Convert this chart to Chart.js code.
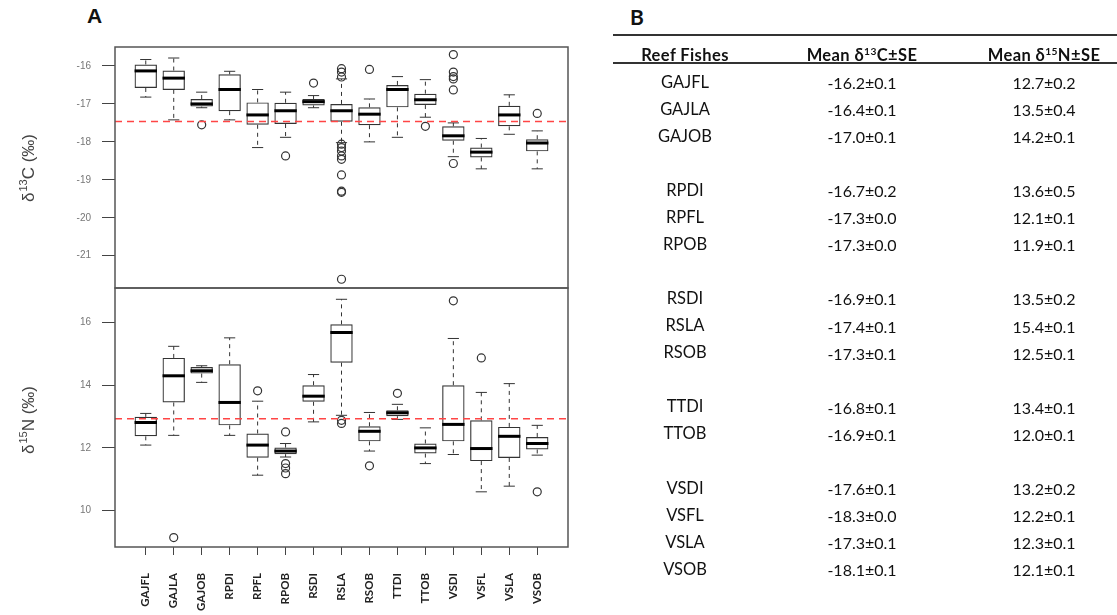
<!DOCTYPE html>
<html>
<head>
<meta charset="utf-8">
<script src="https://cdn.jsdelivr.net/npm/chart.js@4.4.1/dist/chart.umd.min.js"></script>
<style>
  html, body { margin: 0; padding: 0; background: #fff; }
  body { width: 1117px; height: 615px; position: relative; overflow: hidden; }
  canvas { position: absolute; left: 0; }
  #cTop { top: 0; }
  #cBottom { top: 271px; }
  .panel-tag { position: absolute; font-weight: bold; color: #111; }
  .cell { position: absolute; width: 220px; text-align: center; font-family: Lato, "Open Sans", sans-serif; color: #111; }
  .cell sup { font-size: 0.62em; vertical-align: 0.55em; line-height: 0; }
  .rule { position: absolute; left: 613px; width: 504px; height: 2px; background: #333; }
</style>
</head>
<body>
<div class="panel-tag" style="left:87px; top:4px; font: bold 21px 'Liberation Sans', Arial, sans-serif;">A</div>
<div class="panel-tag" style="left:630px; top:4px; font: bold 21px Lato, sans-serif;">B</div>
<canvas id="cTop" width="600" height="305"></canvas>
<canvas id="cBottom" width="600" height="344"></canvas>
<div id="tableB"></div>

<script>
    const species = ["GAJFL", "GAJLA", "GAJOB", "RPDI", "RPFL", "RPOB", "RSDI", "RSLA",
        "RSOB", "TTDI", "TTOB", "VSDI", "VSFL", "VSLA", "VSOB"];

    // delta 13C boxplot stats per species
    const carbonLow = [-16.82, -17.42, -17.10, -17.42, -18.15, -17.88, -17.10, -18.02, -18.00, -17.88, -17.35, -18.39, -18.71, -17.80, -18.71];
    const carbonQ1 = [-16.58, -16.63, -17.07, -17.19, -17.55, -17.53, -17.04, -17.47, -17.56, -17.09, -17.03, -17.97, -18.41, -17.59, -18.25];
    const carbonMedian = [-16.13, -16.32, -17.00, -16.62, -17.29, -17.18, -16.94, -17.18, -17.27, -16.62, -16.89, -17.84, -18.27, -17.29, -18.03];
    const carbonQ3 = [-15.96, -16.12, -16.87, -16.22, -16.96, -16.97, -16.87, -17.00, -17.09, -16.50, -16.73, -17.59, -18.15, -17.05, -17.93];
    const carbonHigh = [-15.83, -15.79, -16.69, -16.14, -16.62, -16.69, -16.78, -16.34, -16.87, -16.28, -16.36, -17.50, -17.91, -16.76, -17.71];
    const carbonOutliers = [
        [], [], [-17.55], [], [], [-18.37], [-16.45],
        [-16.07, -16.16, -16.29, -18.06, -18.15, -18.24, -18.37, -18.46, -18.87, -19.30, -19.33, -21.62],
        [-16.09], [], [-17.59], [-15.70, -16.16, -16.28, -16.34, -16.63, -18.57], [], [], [-17.25],
    ];
    const carbonTicks = [-21, -20, -19, -18, -17, -16];
    const carbonRef = -17.46;

    // delta 15N boxplot stats per species
    const nitrogenLow = [12.09, 12.40, 14.09, 12.40, 11.13, 11.71, 12.83, 13.04, 11.90, 12.91, 11.50, 11.79, 10.60, 10.78, 11.77];
    const nitrogenQ1 = [12.37, 13.45, 14.37, 12.72, 11.69, 11.80, 13.47, 14.72, 12.21, 13.01, 11.82, 12.21, 11.58, 11.68, 11.95];
    const nitrogenMedian = [12.81, 14.30, 14.46, 13.45, 12.09, 11.90, 13.65, 15.68, 12.53, 13.12, 12.00, 12.75, 11.98, 12.37, 12.14];
    const nitrogenQ3 = [12.99, 14.87, 14.58, 14.67, 12.46, 12.01, 14.00, 15.94, 12.69, 13.20, 12.14, 14.00, 12.88, 12.67, 12.35];
    const nitrogenHigh = [13.10, 15.24, 14.62, 15.51, 13.49, 12.14, 14.34, 16.74, 13.13, 13.39, 12.64, 15.49, 13.77, 14.05, 12.72];
    const nitrogenOutliers = [
        [], [9.14], [], [], [13.82], [12.51, 11.50, 11.36, 11.18], [], [12.88, 12.78],
        [11.43], [13.74], [], [16.69], [14.87], [], [10.60],
    ];
    const nitrogenTicks = [10, 12, 14, 16];
    const nitrogenRef = 12.93;

    // table B: means and standard errors
    const meanC = [-16.2, -16.4, -17.0, -16.7, -17.3, -17.3, -16.9, -17.4, -17.3, -16.8, -16.9, -17.6, -18.3, -17.3, -18.1];
    const seC = [0.1, 0.1, 0.1, 0.2, 0.0, 0.0, 0.1, 0.1, 0.1, 0.1, 0.1, 0.1, 0.0, 0.1, 0.1];
    const meanN = [12.7, 13.5, 14.2, 13.6, 12.1, 11.9, 13.5, 15.4, 12.5, 13.4, 12.0, 13.2, 12.2, 12.3, 12.1];
    const seN = [0.2, 0.4, 0.1, 0.5, 0.1, 0.1, 0.2, 0.1, 0.1, 0.1, 0.1, 0.2, 0.1, 0.1, 0.1];

    const X_MIN = -0.1;
    const X_MAX = 16.1;

    const boxPlugin = (stats) => ({
        id: "boxWhiskers",
        beforeDatasetsDraw(chart) {
            const { ctx, scales: { y } } = chart;
            const boxes = chart.getDatasetMeta(0).data;
            ctx.save();
            ctx.strokeStyle = "#333";
            ctx.lineWidth = 1;
            boxes.forEach((bar, i) => {
                const cap = bar.width / 4;
                const yLo = y.getPixelForValue(stats.low[i]);
                const yHi = y.getPixelForValue(stats.high[i]);
                const yQ1 = y.getPixelForValue(stats.q1[i]);
                const yQ3 = y.getPixelForValue(stats.q3[i]);
                // dashed whiskers
                ctx.setLineDash([4, 4]);
                ctx.beginPath();
                ctx.moveTo(bar.x, yQ3);
                ctx.lineTo(bar.x, yHi);
                ctx.moveTo(bar.x, yQ1);
                ctx.lineTo(bar.x, yLo);
                ctx.stroke();
                // staples
                ctx.setLineDash([]);
                ctx.beginPath();
                ctx.moveTo(bar.x - cap, yHi);
                ctx.lineTo(bar.x + cap, yHi);
                ctx.moveTo(bar.x - cap, yLo);
                ctx.lineTo(bar.x + cap, yLo);
                ctx.stroke();
            });
            ctx.restore();
        },
        afterDatasetsDraw(chart) {
            const { ctx, chartArea, scales: { y } } = chart;
            const boxes = chart.getDatasetMeta(0).data;
            ctx.save();
            // medians
            ctx.strokeStyle = "#000";
            ctx.lineWidth = 3;
            boxes.forEach((bar, i) => {
                const yMed = y.getPixelForValue(stats.median[i]);
                ctx.beginPath();
                ctx.moveTo(bar.x - bar.width / 2, yMed);
                ctx.lineTo(bar.x + bar.width / 2, yMed);
                ctx.stroke();
            });
            // plot frame
            ctx.strokeStyle = "#555";
            ctx.lineWidth = 1.5;
            ctx.strokeRect(chartArea.left, chartArea.top,
                chartArea.right - chartArea.left, chartArea.bottom - chartArea.top);
            ctx.restore();
        },
    });

    // rotated y title: delta, superscript isotope mass, element, per mil
    const titlePlugin = (mass, element, centerY) => ({
        id: "isoTitle",
        afterDraw(chart) {
            const { ctx } = chart;
            const big = "17px 'Liberation Sans', Arial, sans-serif";
            const small = "11px 'Liberation Sans', Arial, sans-serif";
            ctx.save();
            ctx.fillStyle = "#444";
            ctx.font = big;
            const wDelta = ctx.measureText("δ").width;
            const wRest = ctx.measureText(element + " (‰)").width;
            ctx.font = small;
            const wMass = ctx.measureText(mass).width;
            const total = wDelta + wMass + wRest + 1;
            ctx.translate(34, centerY);
            ctx.rotate(-Math.PI / 2);
            ctx.textBaseline = "alphabetic";
            let x = -total / 2;
            ctx.font = big;
            ctx.fillText("δ", x, 0);
            x += wDelta + 1;
            ctx.font = small;
            ctx.fillText(mass, x, -7);
            x += wMass;
            ctx.font = big;
            ctx.fillText(element + " (‰)", x, 0);
            ctx.restore();
        },
    });

    const makePanel = (canvasId, cfg) => {
        const outlierPoints = [];
        cfg.outliers.forEach((vals, i) => {
            vals.forEach((v) => outlierPoints.push({ x: i + 1, y: v }));
        });

        return new Chart(document.getElementById(canvasId), {
            type: "bar",
            data: {
                datasets: [
                    {
                        type: "bar",
                        data: species.map((_, i) => ({ x: i + 1, y: [cfg.q1[i], cfg.q3[i]] })),
                        backgroundColor: "rgba(0,0,0,0)",
                        borderColor: "#333",
                        borderWidth: 1.2,
                        borderSkipped: false,
                        categoryPercentage: 1,
                        barPercentage: 0.8,
                        order: 2,
                    },
                    {
                        type: "scatter",
                        data: outlierPoints,
                        pointStyle: "circle",
                        pointRadius: 4,
                        backgroundColor: "rgba(0,0,0,0)",
                        borderColor: "#333",
                        borderWidth: 1.2,
                        order: 1,
                    },
                    {
                        type: "line",
                        data: [{ x: X_MIN, y: cfg.ref }, { x: X_MAX, y: cfg.ref }],
                        borderColor: "#ff4545",
                        borderWidth: 1.5,
                        borderDash: [7, 5],
                        pointRadius: 0,
                        order: 0,
                    },
                ],
            },
            options: {
                responsive: false,
                animation: false,
                events: [],
                // y tick padding + half label height also reserve 17px top/bottom
                layout: { padding: cfg.padding },
                plugins: {
                    legend: { display: false },
                    tooltip: { enabled: false },
                },
                scales: {
                    x: {
                        type: "linear",
                        display: cfg.showX,
                        min: X_MIN,
                        max: X_MAX,
                        offset: false,
                        afterBuildTicks: (scale) => {
                            scale.ticks = species.map((_, i) => ({ value: i + 1 }));
                        },
                        afterFit: (scale) => {
                            if (cfg.showX) scale.height = 68;
                        },
                        border: { display: false },
                        grid: {
                            offset: false,
                            drawOnChartArea: false,
                            drawTicks: true,
                            tickLength: 8,
                            color: "#444",
                        },
                        ticks: {
                            autoSkip: false,
                            maxRotation: 90,
                            minRotation: 90,
                            padding: 18,
                            color: "#222",
                            font: { family: "Lato, sans-serif", size: 11.5, weight: "bold" },
                            callback: (value, index) => species[index],
                        },
                    },
                    y: {
                        min: cfg.yMin,
                        max: cfg.yMax,
                        afterBuildTicks: (scale) => {
                            scale.ticks = cfg.ticks.map((v) => ({ value: v }));
                        },
                        afterFit: (scale) => {
                            scale.width = 115;
                        },
                        border: { display: false },
                        grid: {
                            drawOnChartArea: false,
                            drawTicks: true,
                            tickLength: 13,
                            color: "#444",
                        },
                        ticks: {
                            padding: 11,
                            color: "#777",
                            font: { family: "'Liberation Sans', Arial, sans-serif", size: 10 },
                            callback: (value) => String(value),
                        },
                    },
                },
            },
            plugins: [
                boxPlugin({ low: cfg.low, q1: cfg.q1, median: cfg.median, q3: cfg.q3, high: cfg.high }),
                titlePlugin(cfg.mass, cfg.element, cfg.titleY),
            ],
        });
    };

    makePanel("cTop", {
        low: carbonLow, q1: carbonQ1, median: carbonMedian, q3: carbonQ3, high: carbonHigh,
        outliers: carbonOutliers, ticks: carbonTicks, ref: carbonRef,
        yMin: -21.85, yMax: -15.5, showX: false,
        padding: { top: 47, right: 32, bottom: 17, left: 0 },
        mass: "13", element: "C", titleY: 168,
    });

    makePanel("cBottom", {
        low: nitrogenLow, q1: nitrogenQ1, median: nitrogenMedian, q3: nitrogenQ3, high: nitrogenHigh,
        outliers: nitrogenOutliers, ticks: nitrogenTicks, ref: nitrogenRef,
        yMin: 8.84, yMax: 17.1, showX: true,
        padding: { top: 17, right: 32, bottom: 0, left: 0 },
        mass: "15", element: "N", titleY: 149,
    });

    // table B
    const table = document.getElementById("tableB");
    const colCenters = [685, 862, 1044];
    const addCell = (html, col, centerY, size, bold) => {
        const el = document.createElement("div");
        el.className = "cell";
        el.innerHTML = html;
        el.style.left = colCenters[col] - 110 + "px";
        el.style.top = centerY - size * 0.62 + "px";
        el.style.fontSize = size + "px";
        el.style.lineHeight = size * 1.2 + "px";
        if (bold) {
            el.style.fontWeight = "bold";
            el.style.letterSpacing = "0.4px";
        }
        table.appendChild(el);
    };
    const addRule = (top) => {
        const el = document.createElement("div");
        el.className = "rule";
        el.style.top = top + "px";
        table.appendChild(el);
    };

    addRule(34);
    addRule(62);
    addCell("Reef Fishes", 0, 56, 16.5, true);
    addCell("Mean δ<sup>13</sup>C±SE", 1, 56, 16.5, true);
    addCell("Mean δ<sup>15</sup>N±SE", 2, 56, 16.5, true);

    const rowStep = 27.05;
    let row = 0;
    species.forEach((name, i) => {
        // blank row between genus groups
        if (i > 0 && name.slice(0, 2) !== species[i - 1].slice(0, 2)) row++;
        const cy = 83 + row * rowStep;
        addCell(name, 0, cy, 16.5, false);
        addCell(meanC[i].toFixed(1) + "±" + seC[i].toFixed(1), 1, cy, 16, false);
        addCell(meanN[i].toFixed(1) + "±" + seN[i].toFixed(1), 2, cy, 16, false);
        row++;
    });
</script>
</body>
</html>
